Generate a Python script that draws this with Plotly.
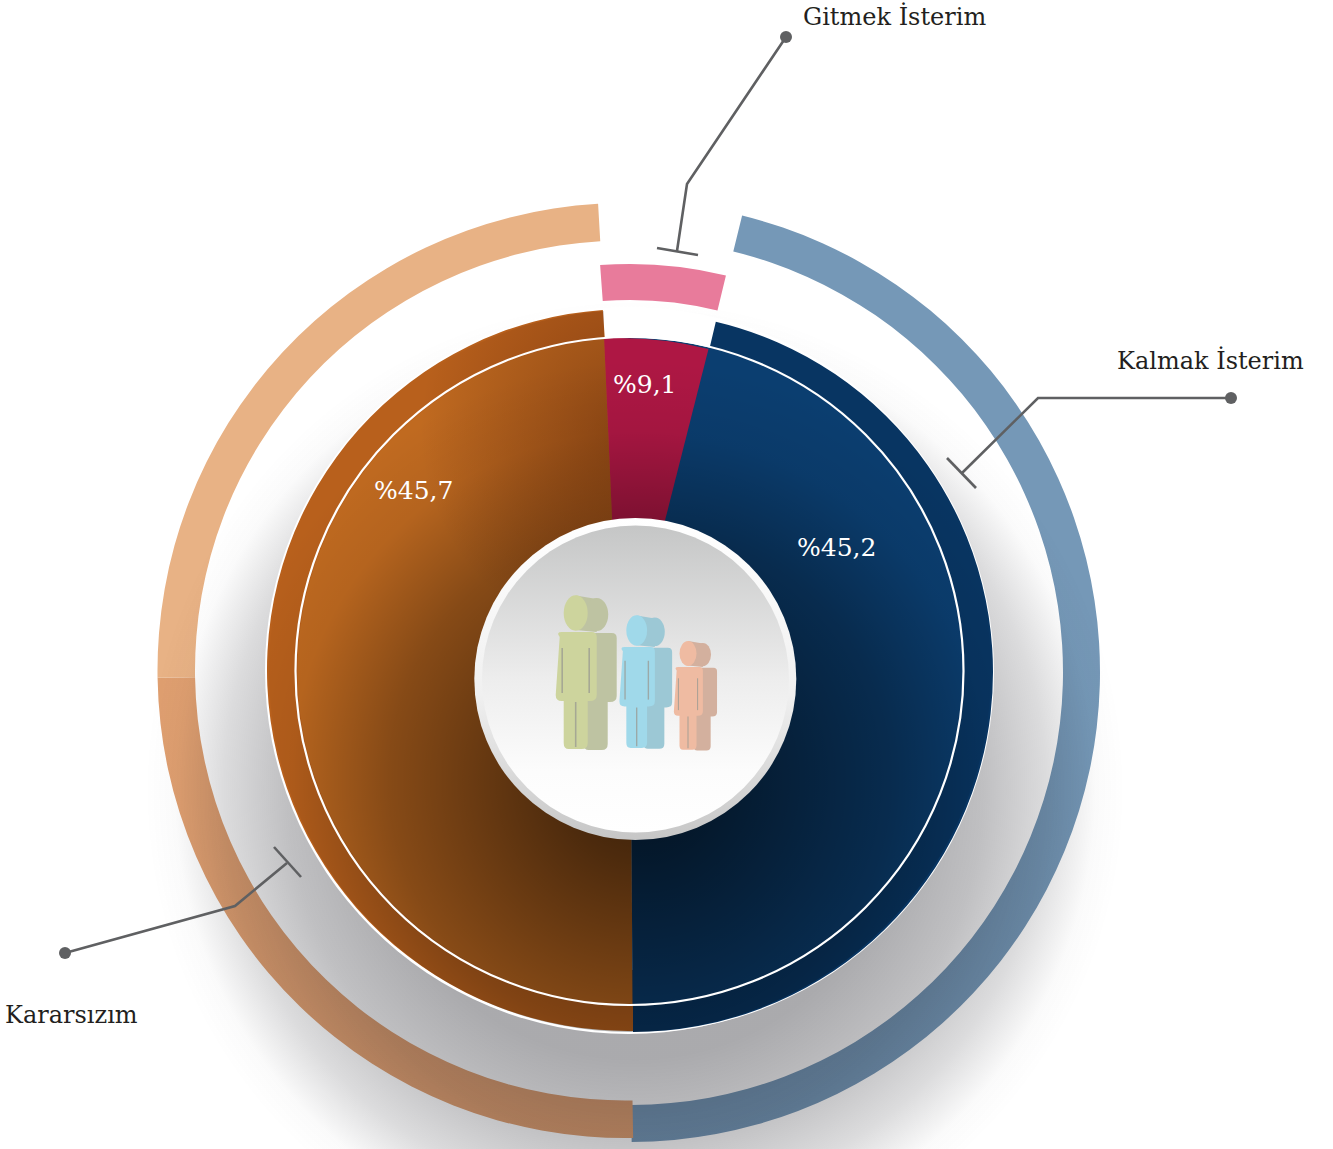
import base64
from xml.dom import minidom
import plotly.graph_objects as go

W, H = 1333, 1149

# Data: what the chart states
categories = ["Kalmak İsterim", "Gitmek İsterim", "Kararsızım"]
share_labels = ["%45,2", "%9,1", "%45,7"]

# Data: angular sweeps of each drawn arc (degrees)
outer_blue_sweep = [166.0, 194.0]
outer_orange_sweep = [90.1, 87.6, 182.3]
pink_sweep = [17.8, 342.2]
band_blue_sweep = [166.7, 193.3]
band_orange_sweep = [177.0, 183.0]
core_sweep = [177.35, 182.65]
wedge_sweep = [16.77, 343.23]

FONT = "DejaVu Serif"
C_LEADER = "#5f6062"


def dom(cx, cy, r):
    return dict(x=[(cx - r) / W, (cx + r) / W], y=[1 - (cy + r) / H, 1 - (cy - r) / H])


def ring(name, values, colors, rotation, cx, cy, r_out, r_in=0):
    return go.Pie(
        name=name, labels=[f"{name} {i}" for i in range(len(values))], values=values,
        marker=dict(colors=colors, line=dict(width=0)), rotation=rotation,
        direction="clockwise", sort=False, hole=r_in / r_out, domain=dom(cx, cy, r_out),
        textinfo="none", hoverinfo="skip", showlegend=False,
    )


CLEAR = "rgba(0,0,0,0)"
traces = [
    ring("outer blue", outer_blue_sweep, ["#7598B7", CLEAR], 13.8, 630, 672, 470, 433),
    ring("outer orange", outer_orange_sweep, ["#DF9F70", "#E8B285", CLEAR], 179.0, 625, 670.5, 467.5, 430),
    ring("pink", pink_sweep, ["#E87B9B", CLEAR], 355.8, 630, 672, 408, 372),
    ring("band orange", band_orange_sweep, ["#B8601C", CLEAR], 179.0, 628, 670, 361, 300),
    ring("band blue", band_blue_sweep, ["#083562", CLEAR], 13.3, 633, 672, 360, 300),
    ring("core", core_sweep, ["#C06A20", "#0B3E70"], 179.65, 630.5, 671, 333),
    ring("wedge", wedge_sweep, ["#AE1744", CLEAR], 357.46, 620, 698, 360),
]


def person(hx, hy, s, front, back):
    def X(v):
        return round(hx + v * s, 2)

    def Y(v):
        return round(hy + v * s, 2)

    def silhouette(dx, dy):
        x = lambda v: X(v + dx)
        y = lambda v: Y(v + dy)
        return (
            f"M{x(-16)} {y(24)} Q{x(-20)} {y(19)} {x(-14)} {y(19)} L{x(16)} {y(19)} "
            f"Q{x(21)} {y(19)} {x(21)} {y(24)} L{x(21)} {y(82)} Q{x(21)} {y(88)} {x(14)} {y(88)} "
            f"L{x(12)} {y(88)} L{x(12)} {y(130)} Q{x(12)} {y(136)} {x(6)} {y(136)} "
            f"L{x(-7)} {y(136)} Q{x(-12)} {y(136)} {x(-12)} {y(130)} L{x(-12)} {y(88)} "
            f"L{x(-14)} {y(88)} Q{x(-20)} {y(88)} {x(-20)} {y(82)} Z"
        )

    p = []
    p.append(f'<path d="{silhouette(20, 1)}" fill="{back}"/>')
    p.append(f'<path d="M{X(0)} {Y(-17.5)} L{X(21)} {Y(-14)} L{X(21)} {Y(19)} L{X(0)} {Y(17)} Z" fill="{back}"/>')
    p.append(f'<ellipse cx="{X(21)}" cy="{Y(1.5)}" rx="{round(11.5*s, 2)}" ry="{round(16.5*s, 2)}" fill="{back}"/>')
    p.append(f'<path d="{silhouette(0, 0)}" fill="{front}"/>')
    p.append(f'<ellipse cx="{hx}" cy="{hy}" rx="{round(12*s, 2)}" ry="{round(17.7*s, 2)}" fill="{front}"/>')
    for x0, y0, y1 in [(-13.5, 35, 80), (13.5, 35, 80), (0, 89, 134)]:
        p.append(
            f'<line x1="{X(x0)}" y1="{Y(y0)}" x2="{X(x0)}" y2="{Y(y1)}" stroke="#9a9a92" '
            f'stroke-width="{round(1.6*s, 2)}" opacity="0.75"/>'
        )
    return "".join(p)


overlay_svg = f"""<svg xmlns="http://www.w3.org/2000/svg" width="{W}" height="{H}" viewBox="0 0 {W} {H}">
<defs>
<radialGradient id="shadow" gradientUnits="userSpaceOnUse" cx="635" cy="790" r="490">
<stop offset="0" stop-color="#14141c" stop-opacity="0.38"/>
<stop offset="0.55" stop-color="#14141c" stop-opacity="0.36"/>
<stop offset="0.71" stop-color="#14141c" stop-opacity="0.27"/>
<stop offset="0.84" stop-color="#14141c" stop-opacity="0.15"/>
<stop offset="0.94" stop-color="#14141c" stop-opacity="0.02"/>
<stop offset="1" stop-color="#14141c" stop-opacity="0"/>
</radialGradient>
<radialGradient id="core" gradientUnits="userSpaceOnUse" cx="640" cy="780" r="420">
<stop offset="0" stop-color="#000" stop-opacity="0.72"/>
<stop offset="0.19" stop-color="#000" stop-opacity="0.6"/>
<stop offset="0.6" stop-color="#000" stop-opacity="0.3"/>
<stop offset="0.83" stop-color="#000" stop-opacity="0.06"/>
<stop offset="1" stop-color="#000" stop-opacity="0"/>
</radialGradient>
<radialGradient id="warm" gradientUnits="userSpaceOnUse" cx="640" cy="430" r="220">
<stop offset="0" stop-color="#3a0d00" stop-opacity="0.4"/>
<stop offset="1" stop-color="#3a0d00" stop-opacity="0"/>
</radialGradient>
<linearGradient id="rim" x1="0" y1="0" x2="0" y2="1">
<stop offset="0" stop-color="#ffffff"/><stop offset="0.55" stop-color="#f0f0f0"/><stop offset="1" stop-color="#c6c6c6"/>
</linearGradient>
<linearGradient id="face" x1="0" y1="0" x2="0" y2="1">
<stop offset="0" stop-color="#c5c6c6"/><stop offset="0.5" stop-color="#ededed"/><stop offset="0.8" stop-color="#fcfcfc"/><stop offset="1" stop-color="#ffffff"/>
</linearGradient>
<mask id="outside" maskUnits="userSpaceOnUse" x="0" y="0" width="{W}" height="{H}">
<rect width="{W}" height="{H}" fill="#fff"/>
<circle cx="628.5" cy="670.5" r="363.5" fill="#000"/>
<circle cx="633" cy="672" r="361" fill="#000"/>
</mask>
<clipPath id="orangeSide"><path d="M604 300 L604 338 L620 698 L632.5 700 L632.5 1040 L260 1040 L260 300 Z"/></clipPath>
<clipPath id="disc"><circle cx="630" cy="671" r="361"/></clipPath>
</defs>
<rect width="{W}" height="{H}" fill="url(#shadow)" mask="url(#outside)"/>
<g clip-path="url(#disc)"><rect width="{W}" height="{H}" fill="url(#core)"/>
<g clip-path="url(#orangeSide)"><rect x="260" y="200" width="380" height="460" fill="url(#warm)"/></g></g>
<circle cx="629.5" cy="671" r="334" fill="none" stroke="#fff" stroke-width="2.2"/>
<circle cx="635.3" cy="679" r="161" fill="url(#rim)"/>
<circle cx="635.5" cy="679" r="153.5" fill="url(#face)"/>
{person(575.7, 613, 1.0, "#CDD49D", "#BEC3A2")}
{person(636.7, 630.5, 0.864, "#A0D9EA", "#9CC8D5")}
{person(688, 653.5, 0.708, "#EFBBA2", "#D3B09E")}
</svg>"""
minidom.parseString(overlay_svg)


def uri(svg):
    return "data:image/svg+xml;base64," + base64.b64encode(svg.encode()).decode()


def px(x):
    return x / W


def py(y):
    return 1 - y / H


def poly(points):
    return dict(type="path", xref="paper", yref="paper",
                path="M" + " L".join(f"{px(x):.5f} {py(y):.5f}" for x, y in points),
                line=dict(color=C_LEADER, width=2.6), layer="above")


def dot(x, y, r=6):
    return dict(type="circle", xref="paper", yref="paper", x0=px(x - r), x1=px(x + r),
                y0=py(y + r), y1=py(y - r), fillcolor=C_LEADER, line=dict(width=0), layer="above")


leaders = [
    ((786, 37), [(786, 37), (687, 184), (677, 251)], [(657, 248), (698, 255)]),
    ((1231, 398), [(1231, 398), (1038, 398), (962, 473)], [(947, 458), (976, 488)]),
    ((65, 953), [(65, 953), (235, 906), (287, 863)], [(274, 847), (301, 877)]),
]

shapes = [
    dict(type="circle", xref="paper", yref="paper", x0=px(628.5 - 363.5), x1=px(628.5 + 363.5),
         y0=py(670.5 + 363.5), y1=py(670.5 - 363.5), fillcolor="white", line=dict(width=0), layer="below"),
]
for d, path, bar in leaders:
    shapes += [poly(path), poly(bar), dot(*d)]


def note(text, x, y, size, color):
    return dict(text=text, xref="paper", yref="paper", x=px(x), y=py(y), xanchor="center",
                yanchor="middle", showarrow=False, font=dict(family=FONT, size=size, color=color))


annotations = [
    note(categories[0], 1210, 360, 24, "#231f20"),
    note(categories[1], 894, 16, 24, "#231f20"),
    note(categories[2], 71, 1015, 24, "#231f20"),
    note(share_labels[0], 836, 547, 25, "#ffffff"),
    note(share_labels[1], 645, 384, 25, "#ffffff"),
    note(share_labels[2], 413, 490, 25, "#ffffff"),
]

image = dict(source=uri(overlay_svg), xref="paper", yref="paper", x=0, y=1, sizex=1, sizey=1,
             sizing="stretch", xanchor="left", yanchor="top", layer="above")

fig = go.Figure(traces)
fig.update_layout(
    width=W, height=H, margin=dict(l=0, r=0, t=0, b=0), paper_bgcolor="white", plot_bgcolor="white",
    showlegend=False, images=[image], shapes=shapes, annotations=annotations,
)
fig.write_html("out.html", config={"displayModeBar": False},
               post_script="document.body.style.margin='0';document.documentElement.style.overflow='hidden';")
